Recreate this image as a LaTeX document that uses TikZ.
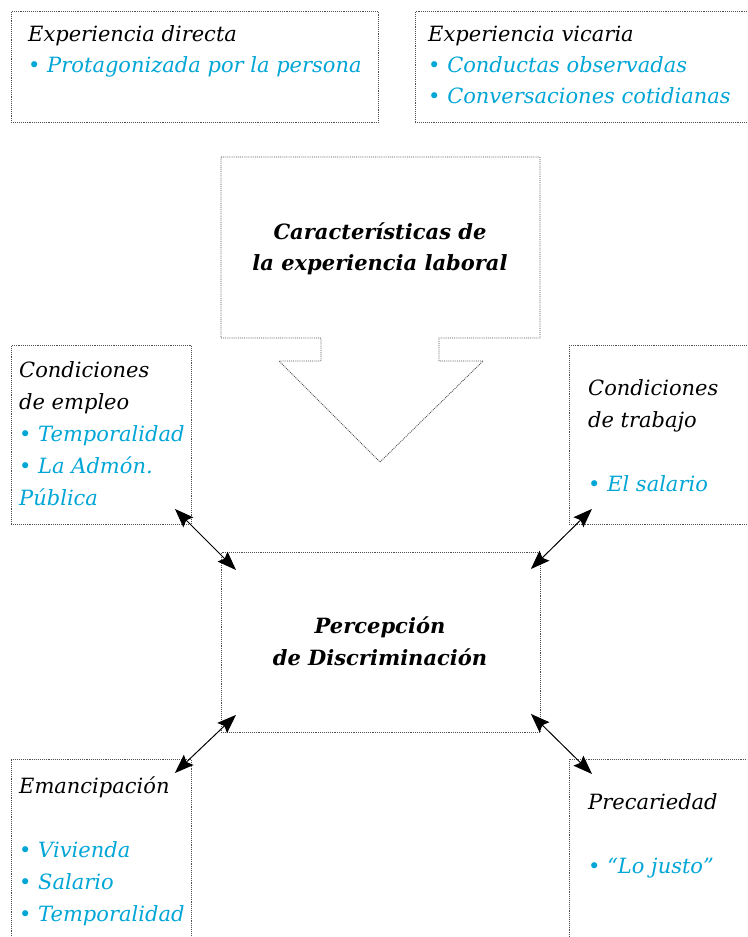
\documentclass[tikz,border=0pt]{standalone}
\usepackage{fontspec}
\setmainfont{DejaVu Serif}
\usetikzlibrary{arrows.meta,calc}
\definecolor{cyantext}{RGB}{0,166,214}
\definecolor{dotgray}{RGB}{80,80,80}
\newcommand{\lineset}[2]{\vtop{\baselineskip=#1\lineskiplimit=-100pt\lineskip=0pt #2}}
\newcommand{\Ln}[1]{\hbox{#1}}
\newcommand{\Bl}[1]{\hbox{\color{cyantext}•\ #1}}
\newcommand{\Cl}[1]{\hbox{\color{cyantext}#1}}
\tikzset{
  box/.style={draw=dotgray, densely dotted, line width=0.9pt, rectangle, inner sep=0pt, anchor=north west},
  txt/.style={inner sep=0pt, anchor=base west, font=\fontsize{21}{32}\selectfont\itshape},
  ctxt/.style={inner sep=0pt, anchor=base, font=\fontsize{21}{32}\selectfont\bfseries\itshape},
  tip/.style={},
  link/.style={{Stealth[length=19pt,width=14pt,inset=3pt]}-{Stealth[length=19pt,width=14pt,inset=3pt]}, line width=1pt},
}
\begin{document}
\begin{tikzpicture}[x=1pt,y=-1pt]
\clip (0,0) rectangle (747,937);
\fill[white] (0,0) rectangle (747,937);
% boxes
\node[box, minimum width=367pt, minimum height=111pt] (b1) at (11,11) {};
\node[box, minimum width=345pt, minimum height=111pt] (b2) at (415,11) {};
\node[box, minimum width=180pt, minimum height=179pt] (emp) at (11,345) {};
\node[box, minimum width=190pt, minimum height=179pt] (trab) at (569,345) {};
\node[box, minimum width=319pt, minimum height=180pt] (cen) at (221,552) {};
\node[box, minimum width=180pt, minimum height=190pt] (eman) at (11,759) {};
\node[box, minimum width=190pt, minimum height=190pt] (prec) at (569,759) {};
% big arrow
\draw[draw=dotgray, densely dotted, line width=0.9pt]
  (221,157) -- (540,157) -- (540,338) -- (439,338) -- (439,361) -- (483,361)
  -- (380,462) -- (279,361) -- (321,361) -- (321,338) -- (221,338) -- cycle;
% texts
\node[txt] (t1) at (28,41) {\lineset{31pt}{\Ln{Experiencia directa}\Bl{Protagonizada por la persona}}};
\node[txt] (t2) at (428,41) {\lineset{31pt}{\Ln{Experiencia vicaria}\Bl{Conductas observadas}\Bl{Conversaciones cotidianas}}};
\node[txt] (temp) at (19,377) {\lineset{32pt}{\Ln{Condiciones}\Ln{de empleo}\Bl{Temporalidad}\Bl{La Admón.}\Cl{Pública}}};
\node[txt] (ttrab) at (588,395) {\lineset{32pt}{\Ln{Condiciones}\Ln{de trabajo}\Ln{}\Bl{El salario}}};
\node[txt] (teman) at (19,793) {\lineset{32pt}{\Ln{Emancipación}\Ln{}\Bl{Vivienda}\Bl{Salario}\Bl{Temporalidad}}};
\node[txt] (tprec) at (588,809) {\lineset{32pt}{\Ln{Precariedad}\Ln{}\Bl{“Lo justo”}}};
\node[ctxt] (title) at (380,239) {\lineset{31pt}{\halign{\hfil#\hfil\cr Características de\cr la experiencia laboral\cr}}};
\node[ctxt] (tcen) at (380,633) {\lineset{32pt}{\halign{\hfil#\hfil\cr Percepción\cr de Discriminación\cr}}};
% arrow end points
\coordinate (e1) at ($(emp.south east)+(-17,-16)$);
\coordinate (e2) at ($(cen.north west)+(15,18)$);
\coordinate (w1) at ($(trab.south west)+(23,-16)$);
\coordinate (w2) at ($(cen.north east)+(-10,17)$);
\coordinate (m1) at ($(cen.south west)+(15,-18)$);
\coordinate (m2) at ($(eman.north east)+(-17,14)$);
\coordinate (p1) at ($(cen.south east)+(-10,-19)$);
\coordinate (p2) at ($(prec.north west)+(23,15)$);
\draw[link] (e1) -- (e2);
\draw[link] (w1) -- (w2);
\draw[link] (m1) -- (m2);
\draw[link] (p1) -- (p2);
\end{tikzpicture}
\end{document}
